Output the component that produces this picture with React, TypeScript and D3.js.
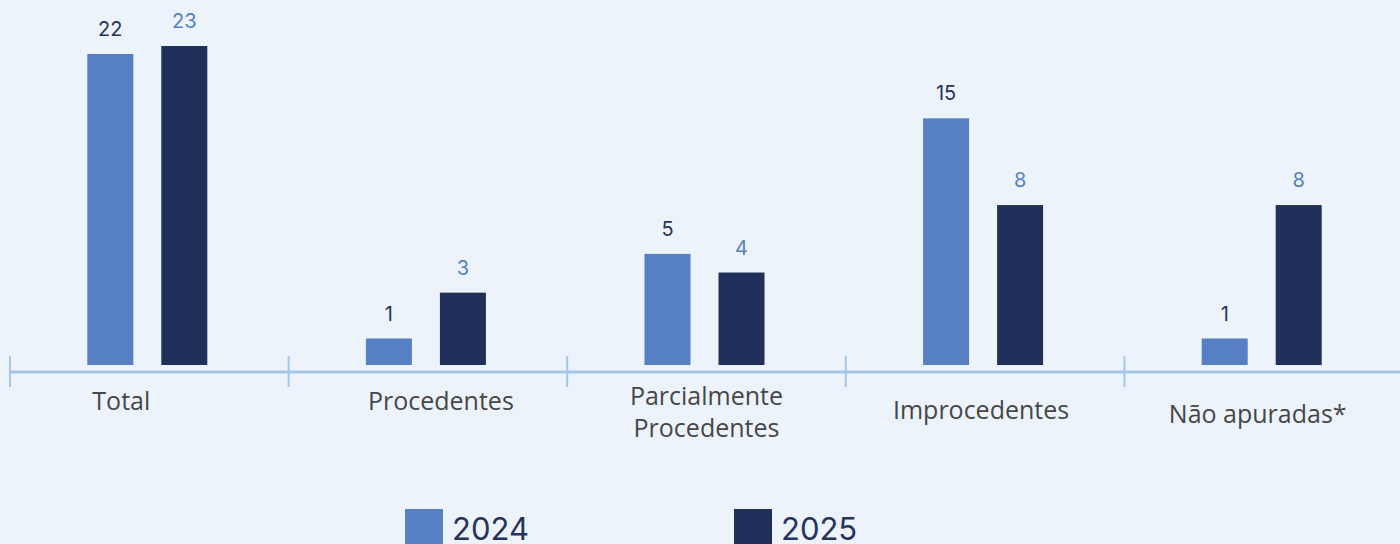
import React from "react";
import * as d3 from "d3";

const categories = ["Total", "Procedentes", "Parcialmente\nProcedentes", "Improcedentes", "Não apuradas*"];
const values2024 = [22, 1, 5, 15, 1];
const values2025 = [23, 3, 4, 8, 8];
const seriesNames = ["2024", "2025"];

const W = 1400;
const H = 544;
const BG = "#ecf3fb";
const C1 = "#577fc3";
const C2 = "#21305a";
const AXIS = "#a6c5ea";
const TEXT_DARK = "#27335e";

// layout (styling, not data)
const labelDx = [-28, 13, 0, -4, -6];
const labelY = [401, 401, 396, 410, 414];

export default function App() {
  const x = d3.scaleBand<string>().domain(categories).range([10, 1403]).padding(0);
  const y = d3.scaleSymlog().constant(9).domain([0, 23]).range([365, 46]);
  const barW = 46;
  const series = [values2024, values2025];
  const colors = [C1, C2];
  const labelColors = [TEXT_DARK, C1];
  const offs = [-62, 12];

  return (
    <svg width={W} height={H} style={{ display: "block", position: "absolute", left: 0, top: 0 }}>
      <rect x={0} y={0} width={W} height={H} fill={BG} />
      {categories.map((c, i) => {
        const cx = x(c)! + x.bandwidth() / 2;
        return (
          <g key={c}>
            {series.map((s, k) => {
              const top = y(s[i]);
              const bx = cx + offs[k];
              return (
                <g key={k}>
                  <rect x={bx} y={top} width={barW} height={365 - top} fill={colors[k]} />
                  <text
                    x={bx + barW / 2}
                    y={top - 18}
                    textAnchor="middle"
                    fontFamily="Inter, 'Noto Sans', sans-serif"
                    fontSize={20}
                    fill={labelColors[k]}
                  >
                    {s[i]}
                  </text>
                </g>
              );
            })}
            {c.split("\n").map((line, j) => (
              <text
                key={j}
                x={cx + labelDx[i]}
                y={labelY[i] + j * 32 + 9}
                textAnchor="middle"
                fontFamily="'Open Sans', 'Noto Sans', sans-serif"
                fontSize={25}
                fill="#474747"
              >
                {line}
              </text>
            ))}
          </g>
        );
      })}
      <line x1={9.5} x2={W} y1={372} y2={372} stroke={AXIS} strokeWidth={3} />
      {categories.map((c) => (
        <line key={c} x1={x(c)!} x2={x(c)!} y1={356} y2={387} stroke={AXIS} strokeWidth={2} />
      ))}
      {seriesNames.map((n, k) => {
        const lx = k === 0 ? 405 : 734;
        return (
          <g key={n}>
            <rect x={lx} y={509} width={38} height={38} fill={colors[k]} />
            <text
              x={lx + 47}
              y={540}
              fontFamily="Inter, 'Noto Sans', sans-serif"
              fontSize={31}
              fill={TEXT_DARK}
            >
              {n}
            </text>
          </g>
        );
      })}
    </svg>
  );
}
